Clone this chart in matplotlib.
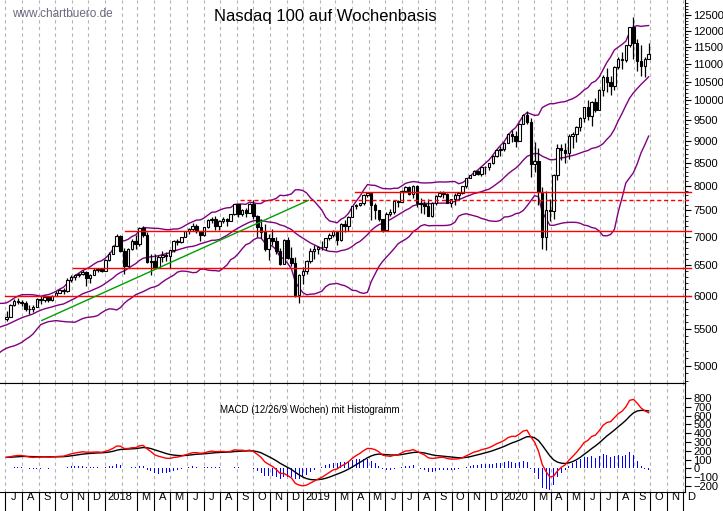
import matplotlib
matplotlib.use("Agg")
import matplotlib.pyplot as plt
import matplotlib.dates as mdates
from matplotlib.ticker import FixedLocator, NullFormatter
import numpy as np
import pandas as pd
import datetime as dt

plt.rcParams["font.family"] = "Liberation Sans"

# ---------------- data ----------------
start_week = "2017-01-30"   # Monday of first week (warm-up weeks for indicators)
first_shown = 22            # index of first drawn candle (week of 2017-07-03)
warmup_close = [5150,5250,5330,5340,5370,5380,5400,5390,5440,5420,5350,5420,5580,5640,
                5690,5690,5790,5850,5680,5700,5760,5650]
close_2017 = [5680,5850,5920,5900,5890,5800,5790,5830,5950,5930,5980,5930,6000,6050,6090,
              6080,6260,6300,6330,6350,6390,6290,6340,6420,6430,6400]
high_2017 = [5760,5870,5950,5960,5930,5920,5850,5860,5970,5990,6010,6000,6010,6070,6110,
             6120,6280,6330,6350,6370,6420,6410,6360,6460,6450,6450]
low_2017 = [5620,5680,5840,5870,5840,5760,5720,5750,5820,5880,5900,5900,5920,5990,6040,
            6030,6060,6220,6250,6300,6330,6150,6200,6330,6390,6380]
close_2018 = [6590,6700,6830,7020,6750,6480,6780,6920,6870,7170,7040,6550,6580,6450,6640,6670,
              6650,6760,6930,6900,6990,7100,7140,7200,7100,7040,7180,7320,7330,7200,7300,7330,
              7300,7430,7620,7430,7500,7450,7630,7390,7180,7080,6780,6970,6930,6750,6520,6950,
              6630,6530,6010,6330]
high_2018 = [6600,6720,6850,7060,7030,6790,6800,6960,7030,7180,7200,7080,6700,6700,6680,6750,
             6720,6770,6940,6960,7000,7110,7160,7250,7240,7110,7190,7330,7370,7390,7310,7380,
             7360,7440,7630,7630,7520,7550,7650,7700,7420,7330,7230,7050,7140,6990,6800,6960,
             7000,6820,6640,6350]
low_2018 = [6420,6580,6700,6830,6730,6360,6520,6770,6780,6830,6990,6530,6340,6430,6500,6560,
            6570,6460,6730,6850,6880,6990,7050,7110,7070,6930,7010,7170,7260,7130,7130,7260,
            7210,7290,7420,7380,7400,7380,7460,7340,6990,6980,6740,6590,6860,6700,6500,6530,
            6600,6480,5980,5890]
close_2019 = [6400,6570,6740,6780,6810,6820,6970,7040,7100,6950,7240,7200,7380,7580,7600,7640,
              7810,7840,7600,7510,7340,7130,7440,7460,7680,7670,7900,7970,7830,8000,7640,7620,
              7590,7400,7650,7780,7850,7820,7650,7720,7800,7850,7990,8160,8220,8320,8250,8400,
              8400,8480,8650,8780]
high_2019 = [6470,6590,6790,6860,6840,6920,6980,7070,7120,7100,7260,7320,7400,7590,7620,7650,
             7830,7860,7820,7640,7510,7340,7460,7520,7690,7710,7910,7990,8000,8010,8020,7740,
             7680,7730,7660,7800,7900,7890,7860,7730,7850,7880,8000,8170,8230,8330,8330,8400,
             8420,8500,8660,8800]
low_2019 = [6190,6360,6540,6600,6700,6760,6760,6940,6990,6850,6920,7080,7100,7390,7530,7580,
            7610,7770,7320,7340,7300,7080,7100,7400,7430,7560,7670,7870,7800,7750,7560,7450,
            7440,7390,7370,7600,7760,7740,7650,7560,7600,7710,7820,7960,8160,8220,8230,8200,
            8240,8330,8460,8630]
close_2020 = [8800,8950,9170,9100,8990,9400,9620,9450,8460,8530,7880,6990,7500,7490,8230,8830,
              8780,8720,9120,9150,9320,9560,9820,9590,9950,9760,10280,10620,10500,10380,10910,
              11130,11120,11560,12110,11620,11090,10940,11150,11300]
high_2020 = [8870,8980,9190,9260,9230,9420,9650,9720,9540,8960,8820,7970,7900,7730,8250,8920,
             8920,8950,9170,9210,9350,9580,9840,10000,9980,10070,10300,10680,10870,10650,10930,
             11200,11350,11560,12120,12440,11750,11570,11200,11620]
low_2020 = [8640,8760,8940,8980,8850,9000,9400,9400,8190,8300,7600,6780,6770,7290,7340,8130,
            8560,8500,8580,8820,8960,9240,9450,9500,9350,9700,9770,10110,10230,10150,10270,
            10860,10860,11060,11500,11150,10810,10660,10640,11200]

# horizontal support/resistance levels: (value, start date, style)
level_values = [7880, 7700, 7100, 6450, 6000]
level_starts = ["2019-04-06", "2018-09-06", "2018-02-06", "2017-11-03", "2017-06-30"]
level_styles = ["-", "--", "-", "-", "-"]
trend_dates = ["2017-09-06", "2019-01-10"]
trend_values = [5625, 7700]

month_letters = ["J","F","M","A","M","J","J","A","S","O","N","D"]
price_ticks = list(range(5000, 13000, 500))
macd_ticks = list(range(-200, 900, 100))

# ---------------- computation ----------------
closes = np.array(warmup_close + close_2017 + close_2018 + close_2019 + close_2020, float)
highs = np.array(high_2017 + high_2018 + high_2019 + high_2020, float)
lows = np.array(low_2017 + low_2018 + low_2019 + low_2020, float)
dates = pd.date_range(start_week, periods=len(closes), freq="7D")
s = pd.Series(closes, index=dates)
mid = s.rolling(20).mean()
sd = s.rolling(20).std(ddof=0)
upper, lower = mid + 2 * sd, mid - 2 * sd
macd = s.ewm(span=12, adjust=False).mean() - s.ewm(span=26, adjust=False).mean()
signal = macd.ewm(span=9, adjust=False).mean()
hist = macd - signal

sh = slice(first_shown, None)
d_sh = dates[sh]
c_sh = closes[sh]
o_sh = closes[first_shown - 1:-1]

fig = plt.figure(figsize=(7.23, 5.11), dpi=100)
W, H = 723, 511
ax = fig.add_axes([0, 1 - 383 / H, 685 / W, 383 / H])
ax2 = fig.add_axes([0, 1 - 492 / H, 685 / W, 109 / H], sharex=ax)

xmin, xmax = dt.datetime(2017, 6, 21), dt.datetime(2020, 12, 4)
month_starts = pd.date_range("2017-07-01", "2021-01-01", freq="MS")
for a in (ax, ax2):
    for m in month_starts:
        a.axvline(m, color="#b4b4b4", lw=0.8, ls=(0, (3, 3)), zorder=0)
    for sp in ("left", "top"):
        a.spines[sp].set_visible(False)
    a.yaxis.tick_right()
    a.tick_params(axis="y", labelsize=8, length=4, pad=2)

# candles
ax.vlines(d_sh, lows, highs, color="black", lw=0.9, zorder=2)
up = c_sh >= o_sh
bot = np.minimum(o_sh, c_sh)
hgt = np.maximum(np.abs(c_sh - o_sh), 8)
ax.bar(d_sh, hgt, bottom=bot, width=4.5, color=np.where(up, "white", "black"),
       edgecolor="black", lw=0.8, zorder=3)

ax.plot(dates, upper, color="#800080", lw=1, zorder=1)
ax.plot(dates, mid, color="#800080", lw=1, zorder=1)
ax.plot(dates, lower, color="#800080", lw=1, zorder=1)

for v, st, ls in zip(level_values, level_starts, level_styles):
    ax.plot([pd.Timestamp(st), pd.Timestamp("2020-12-15")], [v, v], color="red", lw=1,
            ls=ls if ls == "-" else (0, (3, 2)), zorder=4, clip_on=False)
ax.plot(pd.to_datetime(trend_dates), trend_values, color="#00a000", lw=1, zorder=4)

ax.set_yscale("log")
ax.set_ylim(4777, 13001)
ax.yaxis.set_major_locator(FixedLocator(price_ticks))
ax.yaxis.set_major_formatter(matplotlib.ticker.FixedFormatter([str(t) for t in price_ticks]))
ax.yaxis.set_minor_locator(FixedLocator(list(range(4800, 13000, 100))))
ax.yaxis.set_minor_formatter(NullFormatter())
ax.tick_params(axis="y", which="minor", length=2)
ax.tick_params(axis="x", bottom=False, labelbottom=False)
ax.set_xlim(xmin, xmax)

ax.text(0.018, 0.963, "www.chartbuero.de", transform=ax.transAxes, fontsize=8.5,
        color="#6a6a80", va="center")
ax.text(325 / 685, 0.958, "Nasdaq 100 auf Wochenbasis", transform=ax.transAxes,
        fontsize=12, ha="center", va="center")

# MACD panel
ax2.bar(d_sh, hist[sh], width=1.8, color="#0000ff", zorder=2)
ax2.plot(d_sh, signal[sh], color="black", lw=1, zorder=3)
ax2.plot(d_sh, macd[sh], color="red", lw=1, zorder=3)
ax2.set_ylim(-268, 970)
ax2.yaxis.set_major_locator(FixedLocator(macd_ticks))
ax2.text(310 / 685, 0.75, "MACD (12/26/9 Wochen) mit Histogramm", transform=ax2.transAxes,
         fontsize=7, ha="center", va="center")
ax2.spines["top"].set_visible(True)
tick_months = [m for m in month_starts if m.month != 2]
ax2.xaxis.set_major_locator(FixedLocator(mdates.date2num(tick_months)))
ax2.xaxis.set_major_formatter(NullFormatter())
ax2.tick_params(axis="x", which="major", length=18, width=0.8)
for m in month_starts[:-1]:
    if m.month == 2:
        continue
    lab = str(m.year) if m.month == 1 else month_letters[m.month - 1]
    off = 26 if m.month == 1 else 15
    ax2.text(m + pd.Timedelta(days=off), -330, lab, fontsize=8, ha="center", va="center",
             clip_on=False)

fig.savefig("out.png", dpi=100)
